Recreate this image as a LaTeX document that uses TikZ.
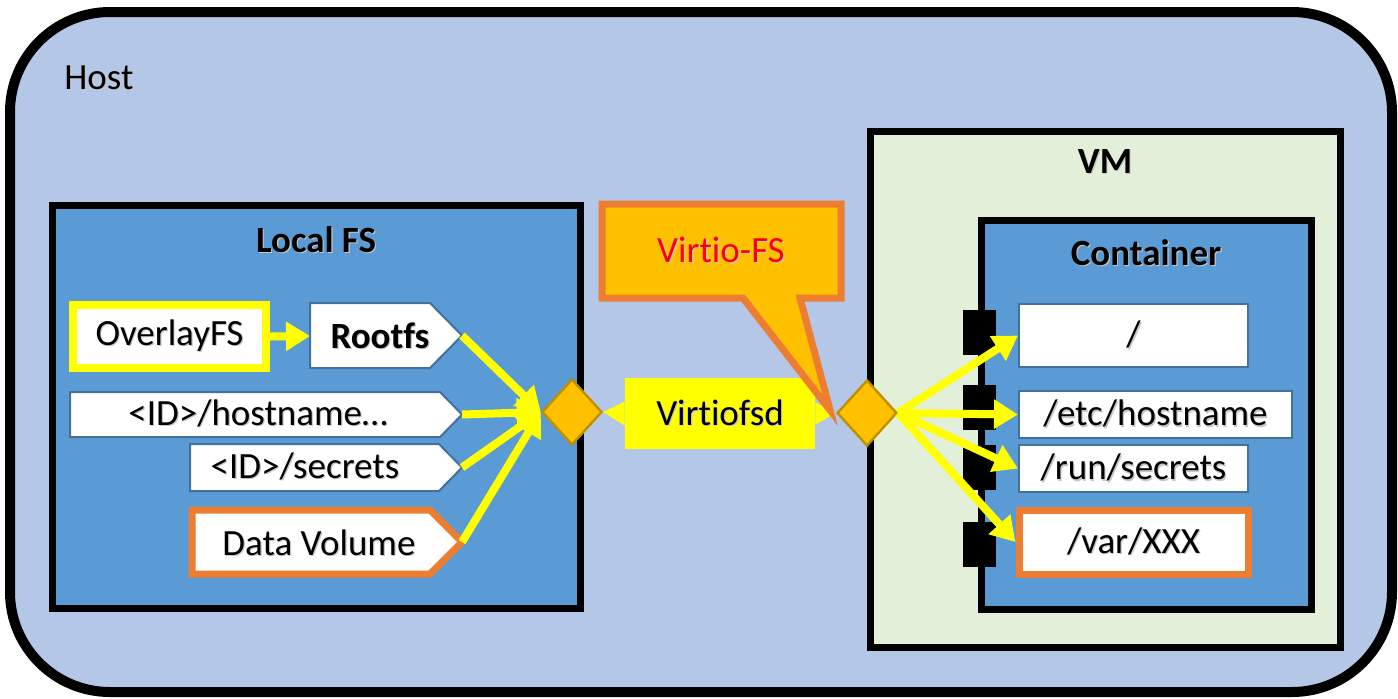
\documentclass[tikz,border=0pt]{standalone}
\usepackage{fontspec}
\setmainfont{Carlito}[Ligatures=NoCommon]
\usetikzlibrary{arrows.meta,shapes.geometric,calc}
\definecolor{hostfill}{HTML}{B4C7E7}
\definecolor{fsblue}{HTML}{5B9BD5}
\definecolor{vmgreen}{HTML}{E2F0D9}
\definecolor{gold}{HTML}{FFC000}
\definecolor{golddark}{HTML}{BF9000}
\definecolor{orangeedge}{HTML}{ED7D31}
\definecolor{tagedge}{HTML}{41719C}
\definecolor{yel}{HTML}{FFFF00}
% text with a faint drop shadow
\newcommand\shd[1]{\makebox[0pt][l]{\hspace{0.6pt}\raisebox{-0.6pt}{\textcolor{black!22}{#1}}}#1}
\begin{document}
\begin{tikzpicture}[x=0.5pt,y=-0.5pt,
  every node/.style={font=\fontsize{18.5pt}{22pt}\selectfont},
  lbl/.style={inner sep=0},
  frame/.style={draw=black, line width=3.5pt, inner sep=0},
  tagbox/.style={draw=tagedge, line width=1pt, fill=white, line join=miter},
  mnt/.style={draw=tagedge, line width=1pt, fill=white, inner sep=0},
  dia/.style={diamond, draw=golddark, fill=gold, line width=1.2pt,
              minimum width=30pt, minimum height=33pt, inner sep=0},
  port/.style={fill=black, minimum width=16.5pt, minimum height=22.5pt, inner sep=0},
  yarrow/.style={draw=yel, line width=4pt, -{Triangle[length=12pt,width=14pt]}}]
\useasboundingbox (0,0) rectangle (1398,698);

% host
\node[draw=black, line width=5pt, fill=hostfill, rounded corners=50pt,
      minimum width=691pt, minimum height=340pt, inner sep=0] (host) at (701,352) {};
\node[lbl, anchor=west] (hostlbl) at (64,78) {\shd{Host}};

% local file system
\node[frame, fill=fsblue, minimum width=264pt, minimum height=201.5pt] (localfs) at (316,406.5) {};
\node[lbl] (localfslbl) at (316,240) {\bfseries\shd{Local FS}};

\node[draw=yel, line width=4pt, fill=white, minimum width=96.5pt, minimum height=31.5pt,
      inner sep=0] (ovl) at (169.5,336.5) {\shd{OverlayFS}};

\path[tagbox] (310,303) -- (430,303) -- (462,335.5) -- (430,368) -- (310,368) -- cycle;
\node[lbl] (rootfs) at (380,336) {\bfseries\shd{Rootfs}};
\coordinate (rootfs-in) at (310,336);
\coordinate (rootfs-tip) at (462,335.5);

\path[tagbox] (70,392) -- (440,392) -- (462,414.5) -- (440,437) -- (70,437) -- cycle;
\node[lbl] (hostname) at (258,414) {\shd{<ID>/hostname…}};
\coordinate (hostname-tip) at (462,414.5);

\path[tagbox] (190,444) -- (439,444) -- (462,467.5) -- (439,491) -- (190,491) -- cycle;
\node[lbl] (secrets) at (305,467) {\shd{<ID>/secrets}};
\coordinate (secrets-tip) at (462,467.5);

\path[tagbox, draw=orangeedge, line width=3.5pt] (192,510) -- (430,510) -- (462,542) -- (430,574) -- (192,574) -- cycle;
\node[lbl] (datavol) at (319,543) {\shd{Data Volume}};
\coordinate (datavol-tip) at (462,542);

% virtual machine and container
\node[frame, fill=vmgreen, minimum width=235pt, minimum height=258pt] (vm) at (1105,389) {};
\node[lbl] (vmlbl) at (1105,162) {\bfseries\shd{VM}};
\node[frame, fill=fsblue, minimum width=165pt, minimum height=194.5pt] (cont) at (1146,414.5) {};
\node[lbl] (contlbl) at (1146,253) {\bfseries\shd{Container}};

\node[port] (p1) at (979.5,332.5) {};
\node[port] (p2) at (979.5,407.5) {};
\node[port] (p3) at (979.5,467.5) {};
\node[port] (p4) at (979.5,544.5) {};

\node[mnt, minimum width=114.5pt, minimum height=31.5pt] (mroot) at (1133.5,335.5) {\shd{/}};
\node[mnt, minimum width=136.5pt, minimum height=23.5pt] (methost) at (1155.5,414.5) {\shd{/etc/hostname}};
\node[mnt, minimum width=114.5pt, minimum height=23.5pt] (msec) at (1133.5,468.5) {\shd{/run/secrets}};
\node[mnt, draw=orangeedge, line width=3.5pt, minimum width=114.5pt, minimum height=32pt] (mvar) at (1133.5,542) {\shd{/var/XXX}};

% virtio-fs bridge
\node[dia] (ldia) at (572,412) {};
\node[dia] (rdia) at (867,413) {};
\node[fill=yel, minimum width=95pt, minimum height=35.5pt, inner sep=0] (vfsd) at (720,413.5) {\shd{Virtiofsd}};
\fill[yel] ($(vfsd.west)+(0,-12)$) -- (ldia.east) -- ($(vfsd.west)+(0,12)$) -- cycle;
\fill[yel] ($(vfsd.east)+(0,-11)$) -- (rdia.west) -- ($(vfsd.east)+(0,11)$) -- cycle;

\path[fill=gold, draw=orangeedge, line width=3.5pt, line join=miter]
  (602,204) -- (841,204) -- (841,298) -- (800,298) -- (830,410) -- (743,298) -- (602,298) -- cycle;
\node[lbl, text=red] (vfs) at (721,250) {\shd{Virtio-FS}};

% data paths
\draw[yarrow] (ovl.east) -- (rootfs-in);
\draw[yarrow] (rootfs-tip) -- (ldia.west);
\draw[yarrow] (hostname-tip) -- (ldia.west);
\draw[yarrow] (secrets-tip) -- (ldia.west);
\draw[yarrow] (datavol-tip) -- (ldia.west);
\draw[yarrow] (rdia.east) -- (mroot.west);
\draw[yarrow] (rdia.east) -- (methost.west);
\draw[yarrow] (rdia.east) -- (msec.west);
\draw[yarrow] (rdia.east) -- (mvar.west);
\end{tikzpicture}
\end{document}
